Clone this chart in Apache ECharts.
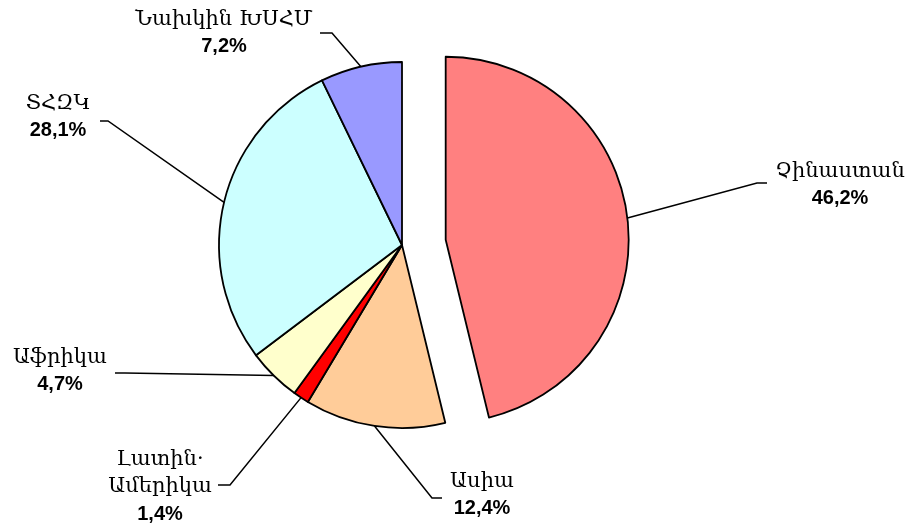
<!DOCTYPE html>
<html>
<head>
<meta charset="utf-8">
<script src="https://cdn.jsdelivr.net/npm/echarts@6/dist/echarts.min.js"></script>
<style>
html, body { margin: 0; padding: 0; background: #fff; }
#pie { width: 909px; height: 524px; }
</style>
</head>
<body>
<div id="pie"></div>
<script>
// shares by region, clockwise from 12 o'clock
var regions = ['Չինաստան', 'Ասիա', 'Լատին·\nԱմերիկա', 'Աֆրիկա', 'ՏՀԶԿ', 'Նախկին ԽՍՀՄ'];
var shares = [46.2, 12.4, 1.4, 4.7, 28.1, 7.2];
var exploded = 'Չինաստան';

var colors = ['#ff8080', '#ffcc99', '#ff0000', '#ffffcc', '#ccffff', '#9999ff'];
// label centre x, centre y, end of leader line x, y, bend x
var spots = [
    [840, 185, 767, 183, 757],
    [482, 495, 442, 498, 432],
    [160, 487, 218, 485, 230],
    [60, 371, 115, 373, 125],
    [58, 117, 100, 121, 108],
    [224, 33, 320, 33, 332]
];
var cx = 402, cy = 245, R = 183, pull = 44

var chart = echarts.init(document.getElementById('pie'))

// where the pulled-out slice sits: move the centre along its mid angle
var total = 0, before = 0, k = regions.indexOf(exploded)
for (let i = 0; i < shares.length; i++) {
    total += shares[i]
    if (i < k) before += shares[i]
}
var mid = (90 - (before + shares[k] / 2) / total * 360) * Math.PI / 180
var cx2 = cx + pull * Math.cos(mid)
var cy2 = cy - pull * Math.sin(mid)

function fmt(p) {
    var lines = p.name.split('\n')
    var s = ''
    for (let i = 0; i < lines.length; i++) {
        s += '{n|' + lines[i] + '}\n'
    }
    return s + '{p|' + p.value.toFixed(1).replace('.', ',') + '%}'
}

function labelOpt(on) {
    return {
        show: on,
        position: 'outside',
        formatter: fmt,
        color: '#000',
        fontWeight: 'bold',
        fontFamily: 'Liberation Sans',
        fontSize: 20,
        rich: {
            n: { fontFamily: 'DejaVu Serif', fontWeight: 'normal', fontSize: 21, lineHeight: 27, color: '#000', align: 'center' },
            p: { fontFamily: 'Liberation Sans', fontWeight: 'bold', fontSize: 20, lineHeight: 27, color: '#000', align: 'center' }
        }
    }
}

function makeData(showPulled) {
    var d = []
    for (let i = 0; i < regions.length; i++) {
        var on = (regions[i] == exploded) == showPulled
        d.push({
            name: regions[i],
            value: shares[i],
            itemStyle: on ? { color: colors[i] } : { color: 'rgba(0,0,0,0)', borderWidth: 0 },
            label: labelOpt(on),
            labelLine: { show: on }
        })
    }
    return d
}

function pieSeries(center, showPulled) {
    return {
        type: 'pie',
        center: center,
        radius: R,
        startAngle: 90,
        clockwise: true,
        avoidLabelOverlap: false,
        emphasis: { disabled: true },
        itemStyle: { borderColor: '#000', borderWidth: 1.8 },
        label: labelOpt(true),
        labelLine: { lineStyle: { color: '#000', width: 1.5 } },
        labelLayout: function (params) {
            var s = spots[params.dataIndex]
            var p0 = params.labelLinePoints ? params.labelLinePoints[0] : [s[4], s[3]]
            return {
                x: s[0],
                y: s[1],
                align: 'center',
                verticalAlign: 'middle',
                labelLinePoints: [p0, [s[4], s[3]], [s[2], s[3]]]
            }
        },
        data: makeData(showPulled)
    }
}

chart.setOption({
    animation: false,
    series: [
        pieSeries([cx, cy], false),
        pieSeries([cx2, cy2], true)
    ]
});
</script>
</body>
</html>
